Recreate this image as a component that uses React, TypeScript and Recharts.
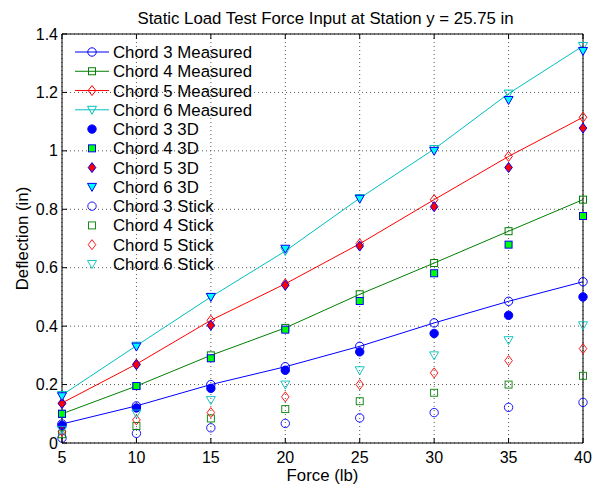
import React from "react";
import {
  CartesianGrid,
  ComposedChart,
  Label,
  Legend,
  Line,
  XAxis,
  YAxis,
} from "recharts";

const force = [5, 10, 15, 20, 25, 30, 35, 40];

const chord3Measured = [0.065, 0.127, 0.2, 0.261, 0.331, 0.411, 0.485, 0.552];
const chord4Measured = [0.1, 0.195, 0.3, 0.394, 0.509, 0.616, 0.725, 0.833];
const chord5Measured = [0.137, 0.27, 0.42, 0.545, 0.682, 0.833, 0.981, 1.115];
const chord6Measured = [0.164, 0.333, 0.5, 0.657, 0.838, 1.006, 1.196, 1.359];

const chord3D3 = [0.06, 0.12, 0.187, 0.249, 0.312, 0.375, 0.437, 0.5];
const chord4D3 = [0.1, 0.195, 0.29, 0.388, 0.486, 0.581, 0.679, 0.777];
const chord5D3 = [0.135, 0.268, 0.403, 0.54, 0.674, 0.809, 0.943, 1.078];
const chord6D3 = [0.16, 0.33, 0.5, 0.665, 0.836, 1.0, 1.174, 1.342];

const chord3Stick = [0.017, 0.033, 0.052, 0.067, 0.086, 0.104, 0.122, 0.139];
const chord4Stick = [0.03, 0.058, 0.084, 0.116, 0.143, 0.172, 0.2, 0.23];
const chord5Stick = [0.04, 0.079, 0.104, 0.158, 0.2, 0.24, 0.282, 0.323];
const chord6Stick = [0.045, 0.101, 0.147, 0.2, 0.249, 0.3, 0.352, 0.403];

const forceTicks = [5, 10, 15, 20, 25, 30, 35, 40];
const deflectionTicks = [0, 0.2, 0.4, 0.6, 0.8, 1, 1.2, 1.4];

const seriesNames = [
  "Chord 3 Measured",
  "Chord 4 Measured",
  "Chord 5 Measured",
  "Chord 6 Measured",
  "Chord 3 3D",
  "Chord 4 3D",
  "Chord 5 3D",
  "Chord 6 3D",
  "Chord 3 Stick",
  "Chord 4 Stick",
  "Chord 5 Stick",
  "Chord 6 Stick",
];
const seriesValues = [
  chord3Measured,
  chord4Measured,
  chord5Measured,
  chord6Measured,
  chord3D3,
  chord4D3,
  chord5D3,
  chord6D3,
  chord3Stick,
  chord4Stick,
  chord5Stick,
  chord6Stick,
];

const data = force.map((f, i) => {
  const row: any = { force: f };
  seriesValues.forEach((vals, s) => {
    row["s" + s] = vals[i];
  });
  return row;
});

const FONT = '"Liberation Sans", Arial, Helvetica, sans-serif';
const BLUE = "#0000ff";
const GREEN = "#008000";
const RED = "#ff0000";
const CYAN = "#00bfbf";

type Shape = "circle" | "square" | "diamond" | "triangle";
const shapes: Shape[] = ["circle", "square", "diamond", "triangle"];
const lineColors = [BLUE, GREEN, RED, CYAN];
const fill3D = [BLUE, "#00ff00", RED, "#00ffff"];

// style for series index: 0-3 measured (line), 4-7 3D (filled), 8-11 stick (open)
function seriesStyle(s: number) {
  const c = s % 4;
  if (s < 4) return { line: lineColors[c], stroke: lineColors[c], fill: "none", shape: shapes[c], sw: 1 };
  if (s < 8) return { line: "none", stroke: BLUE, fill: fill3D[c], shape: shapes[c], sw: 1 };
  return { line: "none", stroke: lineColors[c], fill: "none", shape: shapes[c], sw: 0.9 };
}

function Marker({ cx, cy, shape, stroke, fill, sw }: any) {
  if (cx == null || cy == null) return null;
  if (shape === "circle")
    return <circle cx={cx} cy={cy} r={4.2} stroke={stroke} fill={fill} strokeWidth={sw} />;
  if (shape === "square")
    return <rect x={cx - 3.5} y={cy - 3.5} width={7} height={7} stroke={stroke} fill={fill} strokeWidth={sw} />;
  if (shape === "diamond")
    return (
      <polygon
        points={`${cx},${cy - 5} ${cx + 3.8},${cy} ${cx},${cy + 5} ${cx - 3.8},${cy}`}
        stroke={stroke}
        fill={fill}
        strokeWidth={sw}
      />
    );
  return (
    <polygon
      points={`${cx - 4.5},${cy - 3.5} ${cx + 4.5},${cy - 3.5} ${cx},${cy + 4.5}`}
      stroke={stroke}
      fill={fill}
      strokeWidth={sw}
    />
  );
}

const makeDot = (s: number) => (props: any) => {
  const st = seriesStyle(s);
  return (
    <Marker
      key={`dot-${s}-${props.index}`}
      cx={props.cx}
      cy={props.cy}
      shape={st.shape}
      stroke={st.stroke}
      fill={st.fill}
      sw={st.sw}
    />
  );
};

const BottomTick = ({ x, y, payload }: any) => (
  <g>
    <line x1={x} y1={y} x2={x} y2={y - 5} stroke="#000" />
    <text x={x} y={y + 20} textAnchor="middle" fontSize={16} fontFamily={FONT} fill="#000">
      {payload.value}
    </text>
  </g>
);
const TopTick = ({ x, y }: any) => <line x1={x} y1={y} x2={x} y2={y + 5} stroke="#000" />;
const LeftTick = ({ x, y, payload }: any) => (
  <g>
    <line x1={x} y1={y} x2={x + 5} y2={y} stroke="#000" />
    <text x={x - 4} y={y + 5.5} textAnchor="end" fontSize={16} fontFamily={FONT} fill="#000">
      {payload.value}
    </text>
  </g>
);
const RightTick = ({ x, y }: any) => <line x1={x} y1={y} x2={x - 5} y2={y} stroke="#000" />;

const LegendBox = () => (
  <svg width={200} height={240} style={{ display: "block", overflow: "visible" }}>
    {seriesNames.map((name, s) => {
      const st = seriesStyle(s);
      const cy = 10 + s * 19.27;
      return (
        <g key={name}>
          {st.line !== "none" && <line x1={5} y1={cy} x2={39} y2={cy} stroke={st.line} strokeWidth={1} />}
          <Marker cx={22} cy={cy} shape={st.shape} stroke={st.stroke} fill={st.fill} sw={st.sw} />
          <text x={43} y={cy + 6} fontSize={16.8} fontFamily={FONT} fill="#000">
            {name}
          </text>
        </g>
      );
    })}
  </svg>
);

export default function App() {
  return (
    <div style={{ position: "relative", left: -8, top: -8, width: 600, height: 487, background: "#fff" }}>
      <ComposedChart width={600} height={487} data={data} margin={{ top: 0, right: 0, bottom: 0, left: 0 }}>
        <CartesianGrid xAxisId="bottom" yAxisId="left" stroke="#555" strokeDasharray="1 3" />
        <XAxis
          xAxisId="bottom"
          dataKey="force"
          type="number"
          domain={[5, 40]}
          ticks={forceTicks}
          interval={0}
          height={44}
          tickSize={0}
          tickMargin={0}
          tick={<BottomTick />}
          axisLine={{ stroke: "#000", strokeWidth: 1 }}
        >
          <Label value="Force (lb)" position="center" dy={10} fontSize={16.8} fontFamily={FONT} fill="#000" />
        </XAxis>
        <XAxis
          xAxisId="top"
          orientation="top"
          dataKey="force"
          type="number"
          domain={[5, 40]}
          ticks={forceTicks}
          interval={0}
          height={34}
          tickSize={0}
          tickMargin={0}
          tick={<TopTick />}
          axisLine={{ stroke: "#000", strokeWidth: 1 }}
        >
          <Label
            value="Static Load Test Force Input at Station y = 25.75 in"
            position="center"
            dx={3}
            dy={1}
            fontSize={16.8}
            fontFamily={FONT}
            fill="#000"
          />
        </XAxis>
        <YAxis
          yAxisId="left"
          type="number"
          domain={[0, 1.4]}
          ticks={deflectionTicks}
          interval={0}
          width={62}
          tickSize={0}
          tickMargin={0}
          tick={<LeftTick />}
          axisLine={{ stroke: "#000", strokeWidth: 1 }}
        >
          <Label
            value="Deflection (in)"
            position="center"
            angle={-90}
            dx={-9}
            fontSize={16.8}
            fontFamily={FONT}
            fill="#000"
          />
        </YAxis>
        <YAxis
          yAxisId="right"
          orientation="right"
          type="number"
          domain={[0, 1.4]}
          ticks={deflectionTicks}
          interval={0}
          width={17}
          tickSize={0}
          tickMargin={0}
          tick={<RightTick />}
          axisLine={{ stroke: "#000", strokeWidth: 1 }}
        />
        <Legend
          layout="vertical"
          align="center"
          verticalAlign="middle"
          wrapperStyle={{ top: 42, left: 70, width: 200, height: 240 }}
          content={() => <LegendBox />}
        />
        {seriesNames.map((name, s) => {
          const st = seriesStyle(s);
          return (
            <Line
              key={name}
              name={name}
              xAxisId="bottom"
              yAxisId="left"
              dataKey={"s" + s}
              type="linear"
              stroke={st.line}
              strokeWidth={st.line === "none" ? 0 : 1}
              dot={makeDot(s)}
              activeDot={false}
              isAnimationActive={false}
            />
          );
        })}
      </ComposedChart>
    </div>
  );
}
